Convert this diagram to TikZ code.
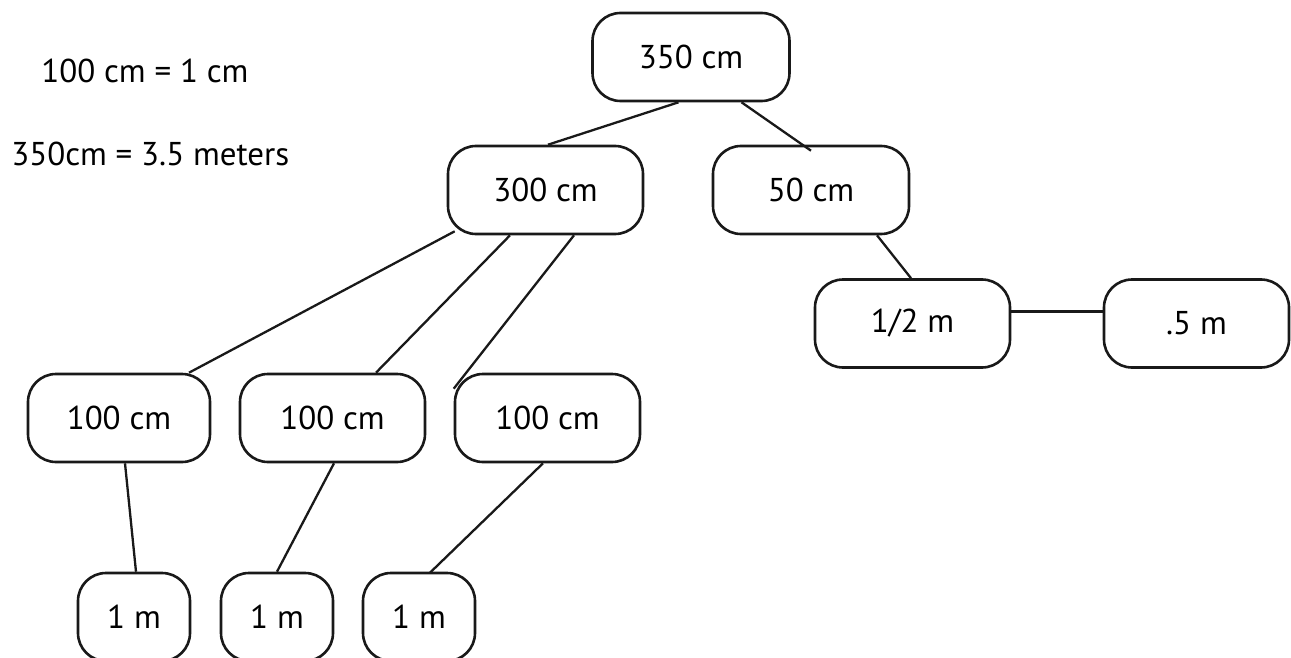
\documentclass[tikz,border=0pt]{standalone}
\usepackage{fontspec}
\setmainfont{PT Sans}
\usetikzlibrary{calc}

\begin{document}
\begin{tikzpicture}[x=1pt, y=-1pt, line width=2.6pt,
    box/.style={draw=black!90, rounded corners=28pt, minimum height=88pt, inner sep=0pt, font=\fontsize{33}{38}\selectfont},
    wide/.style={box, minimum width=195pt},
    small/.style={box, minimum width=112pt},
    conn/.style={line width=2.3pt, black!90}]
    % fix the page
    \useasboundingbox (0,0) rectangle (1291,658);

    % the notes on the left
    \node[anchor=base west, inner sep=0pt, font=\fontsize{33}{38}\selectfont] (note1) at (40,83) {100 cm = 1 cm};
    \node[anchor=base west, inner sep=0pt, font=\fontsize{33}{38}\selectfont] (note2) at (10,165) {350cm = 3.5 meters};

    % the boxes
    \node[wide, minimum width=197pt] (t350) at (691,57) {350 cm};
    \node[wide] (t300) at (545.5,190) {300 cm};
    \node[wide, minimum width=196pt] (t50) at (811,190) {50 cm};
    \node[wide] (half) at (912.5,323.5) {1/2 m};
    \node[wide, minimum width=185pt] (point5) at (1196.5,323.5) {.5 m};
    %
    \node[wide, minimum width=182pt] (c1) at (119,418) {100 cm};
    \node[wide, minimum width=185pt] (c2) at (332.5,418) {100 cm};
    \node[wide, minimum width=185pt] (c3) at (547.5,418) {100 cm};
    %
    \node[small] (m1) at (134,617) {1 m};
    \node[small] (m2) at (277,617) {1 m};
    \node[small] (m3) at (419,617) {1 m};

    % draw the lines
    \draw[conn] ([xshift=-12.5pt]t350.south) -- ([xshift=2.5pt]t300.north);
    \draw[conn] ([xshift=50.5pt]t350.south) -- ([yshift=-6pt]t50.north);
    \draw[conn] ([xshift=8pt,yshift=4pt]t300.south west) -- ([xshift=70pt]c1.north);
    \draw[conn] ([xshift=-35.5pt]t300.south) -- ([xshift=43.5pt]c2.north);
    \draw[conn] ([xshift=28.5pt]t300.south) -- ([yshift=-16pt]c3.north west);
    \draw[conn] ([xshift=66pt]t50.south) -- ([xshift=-1.5pt]half.north);
    \draw[conn] ([yshift=12pt]half.east) -- ([yshift=12pt]point5.west);
    %
    \draw[conn] ([xshift=6pt]c1.south) -- ([xshift=2pt]m1.north);
    \draw[conn] ([xshift=1.5pt]c2.south) -- (m2.north);
    \draw[conn] ([xshift=-4.5pt]c3.south) -- ([xshift=11pt,yshift=-1pt]m3.north);
\end{tikzpicture}
\end{document}
